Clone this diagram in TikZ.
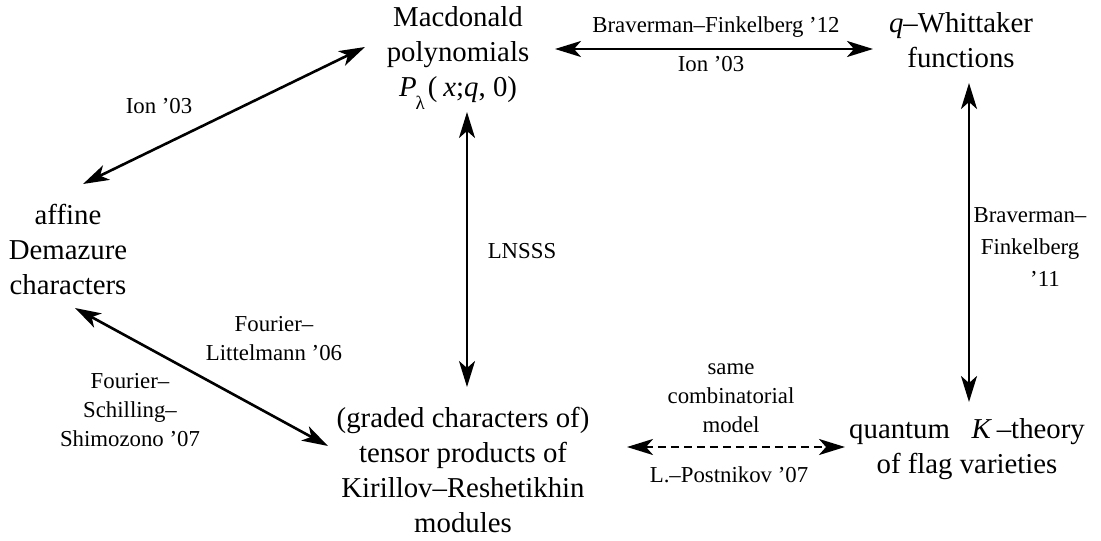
\documentclass[tikz,border=0pt]{standalone}
\usepackage{fontspec}
\setmainfont{Liberation Serif}
\usetikzlibrary{arrows.meta}
\begin{document}
\begin{tikzpicture}[x=0.5pt,y=-0.5pt,
  main/.style={font=\fontsize{14.4}{17.5}\selectfont, align=center, inner sep=0pt, anchor=base},
  lab/.style={font=\fontsize{11.4}{14.3}\selectfont, align=center, inner sep=0pt, anchor=base},
  labwide/.style={lab, font=\fontsize{11.4}{16}\selectfont},
  arr/.style={{Stealth[length=13pt,width=8pt,inset=3.5pt]}-{Stealth[length=13pt,width=8pt,inset=3.5pt]}, line width=1.3pt},
  dsh/.style={arr, dash pattern=on 4pt off 2.5pt}]
\useasboundingbox (0,0) rectangle (1101,540);

% main nodes (anchor = base of last line)
\node[main] (mac) at (458,97) {Macdonald\\polynomials\\\textit{P}\kern-0.5pt\raisebox{-6.5pt}{\fontsize{9.5}{10}\selectfont λ}\kern1.5pt(\hspace{3pt}\textit{x};\textit{q}, 0)};
\node[main] (qw) at (961,68) {\textit{q}–Whittaker\\functions};
\node[main] (aff) at (68,294) {affine\\Demazure\\characters};
\node[main] (kr) at (463,532) {(graded characters of)\\tensor products of\\Kirillov–Reshetikhin\\modules};
\node[main] (qk) at (967,473) {quantum\hspace{0.75em}\textit{K}\,–theory\\of flag varieties};

% connector end points
\coordinate (macSW) at (365,47);
\coordinate (affN) at (83,184);
\coordinate (macE) at (555,49);
\coordinate (qwW) at (873,49);
\coordinate (macS) at (467,112);
\coordinate (krN) at (467,387);
\coordinate (qwS) at (969,83);
\coordinate (qkN) at (969,402);
\coordinate (affS) at (75,308);
\coordinate (krW) at (328,446);
\coordinate (krE) at (627,447);
\coordinate (qkW) at (845,447);

\draw[arr] (macSW) -- (affN);
\draw[arr] (macE) -- (qwW);
\draw[arr] (macS) -- (krN);
\draw[arr] (qwS) -- (qkN);
\draw[arr] (affS) -- (krW);
\draw[dsh] (krE) -- (qkW);

% labels
\node[lab] (l1) at (159,113) {Ion '03};
\node[lab] (l2) at (716,33) {Braverman–Finkelberg '12};
\node[lab] (l3) at (711,72) {Ion '03};
\node[lab] (l4) at (522,258) {LNSSS};
\node[labwide] (l5) at (1030,286) {Braverman–\\Finkelberg\\\hspace*{15pt}'11};
\node[lab] (l6) at (274,360) {Fourier–\\Littelmann '06};
\node[lab] (l7) at (130,446) {Fourier–\\Schilling–\\Shimozono '07};
\node[lab] (l8) at (731,432) {same\\combinatorial\\model};
\node[lab] (l9) at (729,482) {L.–Postnikov '07};
\end{tikzpicture}
\end{document}
